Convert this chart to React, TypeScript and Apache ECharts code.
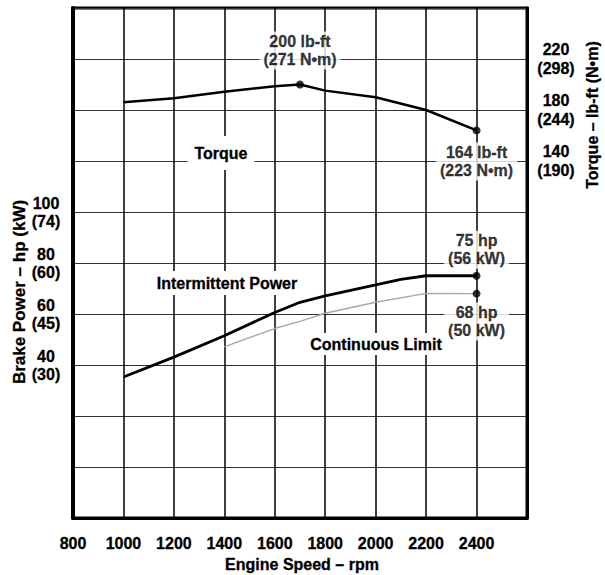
import React, { useEffect, useRef } from 'react';
import * as echarts from 'echarts';

// ---- data ----
const xTickLabels = [800, 1000, 1200, 1400, 1600, 1800, 2000, 2200, 2400];

const torqueRpm = [1000, 1200, 1400, 1600, 1700, 1800, 2000, 2200, 2400];
const torqueLbFt = [186, 189.2, 194.4, 198.6, 200, 195.2, 190, 180, 164];

const intermittentRpm = [1000, 1200, 1400, 1600, 1700, 1800, 2000, 2100, 2200, 2400];
const intermittentHp = [35.3, 43.1, 51.5, 60.6, 64.6, 67.1, 71.4, 73.6, 75, 75];

const continuousRpm = [1400, 1600, 1700, 1800, 2000, 2200, 2400];
const continuousHp = [47.1, 54.3, 57.1, 60.3, 64.6, 68.1, 68];

const torqueMarkRpm = [1700, 2400];
const torqueMarkLbFt = [200, 164];
const torqueMarkNm = [271, 223];

const powerMarkRpm = [2400, 2400];
const powerMarkHp = [75, 68];
const powerMarkKw = [56, 50];

const powerTickHp = [40, 60, 80, 100];
const powerTickKw = [30, 45, 60, 74];
const torqueTickLbFt = [140, 180, 220];
const torqueTickNm = [190, 244, 298];

const FONT = '"Liberation Sans", Arial, Helvetica, sans-serif';
const TXT = {
  color: '#000',
  fontFamily: FONT,
  fontWeight: 'bold' as const,
  fontSize: 16,
  textBorderColor: '#000',
  textBorderWidth: 0.3,
};

const zip = (xs: number[], ys: number[]) => xs.map((x, i) => [x, ys[i]]);

export default function App() {
  const ref = useRef<HTMLDivElement>(null);

  useEffect(() => {
    document.body.style.margin = '0';
    const chart = echarts.init(ref.current!, null, { renderer: 'svg' });

    const markLabel = (text: string, position: string, distance: number) => ({
      show: true,
      formatter: text,
      position,
      distance,
      ...TXT,
      lineHeight: 18,
      align: 'center',
      backgroundColor: '#fff',
      padding: [1, 4, 1, 4],
    });

    const torqueMarks = torqueMarkRpm.map((r, i) => ({
      value: [r, torqueMarkLbFt[i]],
      label: markLabel(
        `${torqueMarkLbFt[i]} lb-ft\n(${torqueMarkNm[i]} N•m)`,
        i === 0 ? 'top' : 'bottom',
        i === 0 ? 11 : 8
      ),
    }));
    const powerMarks = powerMarkRpm.map((r, i) => ({
      value: [r, powerMarkHp[i]],
      label: markLabel(
        `${powerMarkHp[i]} hp\n(${powerMarkKw[i]} kW)`,
        i === 0 ? 'top' : 'bottom',
        i === 0 ? 3 : 5
      ),
    }));

    const textStyle = (text: string, extra: any = {}) => ({
      text,
      fontFamily: FONT,
      fontWeight: 'bold',
      fontSize: 16,
      fill: '#000',
      stroke: '#000',
      lineWidth: 0.3,
      align: 'center',
      verticalAlign: 'middle',
      ...extra,
    });

    const freeText = (text: string, x: number, y: number, pad: number[]) => ({
      type: 'text',
      x,
      y,
      z: 5,
      style: textStyle(text, { backgroundColor: '#fff', padding: pad }),
    });

    chart.setOption({
      animation: false,
      backgroundColor: '#fff',
      grid: {
        left: 73,
        right: 78,
        top: 8,
        bottom: 57,
        show: true,
        borderColor: '#000',
        borderWidth: 3,
        backgroundColor: 'transparent',
      },
      xAxis: {
        type: 'value',
        min: 800,
        max: 2600,
        interval: 200,
        axisLine: { show: true, onZero: false, lineStyle: { color: '#000', width: 3 } },
        axisTick: { show: false },
        splitLine: { show: true, lineStyle: { color: '#000', width: 1.5 } },
        axisLabel: {
          ...TXT,
          margin: 17,
          showMinLabel: true,
          showMaxLabel: true,
          formatter: (v: number) => (xTickLabels.includes(v) ? String(v) : ''),
        },
      },
      yAxis: [
        {
          type: 'value',
          position: 'left',
          min: -20,
          max: 180,
          interval: 20,
          axisLine: { show: true, onZero: false, lineStyle: { color: '#000', width: 4 } },
          axisTick: { show: false },
          splitLine: { show: true, lineStyle: { color: '#333', width: 1.2 } },
          axisLabel: {
            ...TXT,
            align: 'center',
            margin: 27,
            lineHeight: 18,
            padding: [3, 0, 0, 0],
            formatter: (v: number) => {
              const i = powerTickHp.indexOf(v);
              return i >= 0 ? `${v}\n(${powerTickKw[i]})` : '';
            },
          },
        },
        {
          type: 'value',
          position: 'right',
          min: -140,
          max: 260,
          interval: 40,
          axisLine: { show: true, onZero: false, lineStyle: { color: '#000', width: 3 } },
          axisTick: { show: false },
          splitLine: { show: false },
          axisLabel: {
            ...TXT,
            align: 'center',
            margin: 29,
            lineHeight: 19,
            padding: [7, 0, 0, 0],
            formatter: (v: number) => {
              const i = torqueTickLbFt.indexOf(v);
              return i >= 0 ? `${v}\n(${torqueTickNm[i]})` : '';
            },
          },
        },
      ],
      graphic: [
        freeText('Torque', 221, 153, [9, 7, 9, 7]),
        freeText('Intermittent Power', 227, 283, [4, 6, 4, 6]),
        freeText('Continuous Limit', 376, 344, [3, 4, 3, 4]),
        {
          type: 'text',
          x: 19,
          y: 292,
          rotation: Math.PI / 2,
          style: textStyle('Brake Power – hp (kW)', { fontSize: 17 }),
        },
        {
          type: 'text',
          x: 592,
          y: 115,
          rotation: Math.PI / 2,
          style: textStyle('Torque – lb-ft (N•m)'),
        },
        {
          type: 'text',
          x: 302,
          y: 564,
          style: textStyle('Engine Speed – rpm'),
        },
      ],
      series: [
        {
          name: 'Torque',
          type: 'line',
          yAxisIndex: 1,
          data: zip(torqueRpm, torqueLbFt),
          symbol: 'none',
          lineStyle: { color: '#000', width: 2.5 },
          z: 3,
        },
        {
          name: 'Intermittent Power',
          type: 'line',
          yAxisIndex: 0,
          data: zip(intermittentRpm, intermittentHp),
          symbol: 'none',
          lineStyle: { color: '#000', width: 2.8 },
          z: 3,
        },
        {
          name: 'Continuous Limit',
          type: 'line',
          yAxisIndex: 0,
          data: zip(continuousRpm, continuousHp),
          symbol: 'none',
          lineStyle: { color: '#a8a8a8', width: 1.4 },
          z: 3,
        },
        {
          name: 'Torque marks',
          type: 'scatter',
          yAxisIndex: 1,
          data: torqueMarks,
          symbol: 'circle',
          symbolSize: 8,
          itemStyle: { color: '#000' },
          z: 4,
        },
        {
          name: 'Power marks',
          type: 'scatter',
          yAxisIndex: 0,
          data: powerMarks,
          symbol: 'circle',
          symbolSize: 8,
          itemStyle: { color: '#000' },
          z: 4,
        },
      ],
    });

    return () => chart.dispose();
  }, []);

  return <div ref={ref} style={{ width: 605, height: 575 }} />;
}
